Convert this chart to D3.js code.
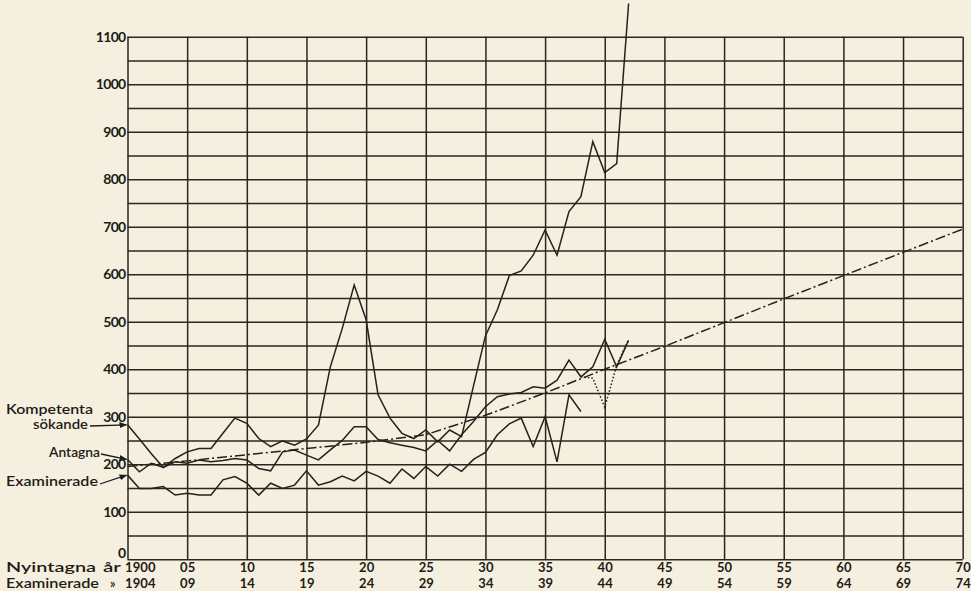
<!DOCTYPE html>
<html>
<head>
<meta charset="utf-8">
<script src="https://cdn.jsdelivr.net/npm/d3@7/dist/d3.min.js"></script>
<style>
  html, body { margin: 0; padding: 0; background: #f4efde; }
  svg { display: block; }
  .grid line { stroke: #2b2620; stroke-width: 1.5; }
  .grid path, .labels path { display: none; }
  .labels text { font-family: Lato, sans-serif; font-weight: 700; fill: #1f1b17; }
  .series { fill: none; stroke: #25211c; stroke-width: 1.5; stroke-linejoin: miter; }
  .note { font-family: Lato, sans-serif; font-weight: 600; font-size: 12.5px; fill: #1f1b17; }
</style>
</head>
<body>
<svg id="chart" width="971" height="591"></svg>
<script>
// values
var startYear = 1900;
var kompetenta = [283, 253, 222, 193, 212, 226, 233, 233, 265, 297, 286, 254, 237, 249, 240, 253, 282, 405, 486, 577,
  504, 346, 297, 265, 254, 272, 247, 272, 258, 365, 470, 525, 597, 607, 640, 693, 640, 732, 763, 879, 814, 833, 1170];
var antagna = [210, 184, 202, 193, 205, 202, 209, 205, 208, 212, 209, 191, 186, 226, 230, 219, 209, 230, 250, 279,
  279, 252, 245, 240, 235, 228, 250, 228, 262, 290, 321, 342, 348, 351, 363, 360, 377, 419, 384, 405, 463, 405, 461];
var antagnaAltStart = 1938;
var antagnaAlt = [384, 381, 320, 408, 463];
// examinerade are counted by exam year, drawn four years back
var examStart = 1904;
var examLag = 4;
var examinerade = [177, 149, 149, 153, 135, 139, 135, 135, 167, 174, 160, 135, 160, 149, 156, 186, 156, 163,
  175, 165, 185, 175, 160, 190, 170, 195, 175, 200, 185, 210, 225, 262, 285, 297, 237, 300, 205, 346, 311];
var trendYears = [1900, 1905, 1910, 1915, 1920, 1925, 1930, 1935, 1940, 1945, 1950, 1955, 1960, 1965, 1970];
var trendValues = [195, 207, 220, 233, 246, 262, 303, 350, 400, 448, 498, 548, 597, 646, 695];

var yTicks = [0, 100, 200, 300, 400, 500, 600, 700, 800, 900, 1000, 1100];
var yGrid = [0, 50, 100, 150, 200, 250, 300, 350, 400, 450, 500, 550, 600, 650, 700, 750, 800, 850, 900, 950, 1000, 1050, 1100];
var yearTicks = [1900, 1905, 1910, 1915, 1920, 1925, 1930, 1935, 1940, 1945, 1950, 1955, 1960, 1965, 1970];
var nyLabels = ['1900', '05', '10', '15', '20', '25', '30', '35', '40', '45', '50', '55', '60', '65', '70'];
var exLabels = ['1904', '09', '14', '19', '24', '29', '34', '39', '44', '49', '54', '59', '64', '69', '74'];

(function () {
  var svg = d3.select('#chart');
  var x = d3.scaleLinear().domain([1900, 1970]).range([127.5, 962.7]);
  var y = d3.scaleLinear().domain([0, 1100]).range([559.2, 36.7]);
  var plotW = x(1970) - x(1900);
  var plotH = y(0) - y(1100);

  svg.append('g')
    .attr('class', 'grid')
    .attr('transform', 'translate(' + x(1900) + ',0)')
    .call(d3.axisLeft(y).tickValues(yGrid).tickSize(-plotW).tickFormat(''));

  svg.append('g')
    .attr('class', 'grid')
    .attr('transform', 'translate(0,' + y(0) + ')')
    .call(d3.axisBottom(x).tickValues(yearTicks).tickSizeInner(-plotH).tickSizeOuter(0).tickFormat(''));

  var yAxis = svg.append('g')
    .attr('class', 'labels')
    .attr('transform', 'translate(' + (x(1900) - 1) + ',0)')
    .call(d3.axisLeft(y).tickValues(yTicks).tickSize(0).tickPadding(1).tickFormat(d3.format('d')));
  yAxis.selectAll('text').style('font-size', '14px').attr('letter-spacing', '-0.7');
  yAxis.selectAll('.tick').filter(function (d) { return d === 0; })
    .select('text').attr('dy', '-0.15em');

  function yearRow(labels, baseline) {
    var g = svg.append('g')
      .attr('class', 'labels')
      .attr('transform', 'translate(0,' + baseline + ')')
      .call(d3.axisBottom(x).tickValues(yearTicks).tickSize(0).tickPadding(0)
        .tickFormat(function (d, i) { return labels[i]; }));
    g.selectAll('text').style('font-size', '13px').attr('dy', 0).attr('letter-spacing', '0.1');
    g.selectAll('.tick').filter(function (d) { return d === 1900; })
      .select('text').attr('text-anchor', 'start').attr('x', -3);
  }
  yearRow(nyLabels, 572);
  yearRow(exLabels, 588);

  function note(t, xPos, yPos, len) {
    var el = svg.append('text').attr('class', 'note').attr('x', xPos).attr('y', yPos).text(t);
    if (len) {
      el.attr('textLength', len).attr('lengthAdjust', 'spacingAndGlyphs');
    }
    return el;
  }
  note('Nyintagna', 6, 572, 90);
  note('år', 103, 572, 18);
  note('Examinerade', 6, 588, 93);
  note('»', 110, 588);

  var line = d3.line()
    .x(function (d) { return x(d.year); })
    .y(function (d) { return y(d.value); });

  function toPoints(values, start, lag) {
    return values.map(function (v, i) {
      return { year: start + i - (lag || 0), value: v };
    });
  }

  var trend = trendYears.map(function (yr, i) { return { year: yr, value: trendValues[i] }; });

  svg.append('path').attr('class', 'series').attr('d', line(toPoints(kompetenta, startYear)));
  svg.append('path').attr('class', 'series').attr('d', line(toPoints(antagna, startYear)));
  svg.append('path').attr('class', 'series').attr('d', line(toPoints(examinerade, examStart, examLag)));
  svg.append('path').attr('class', 'series')
    .attr('stroke-width', 1.2)
    .attr('stroke-dasharray', '1.5,2')
    .attr('d', line(toPoints(antagnaAlt, antagnaAltStart)));
  svg.append('path').attr('class', 'series')
    .attr('stroke-width', 1.6)
    .attr('stroke-dasharray', '10,3,2,3')
    .attr('d', line(trend));

  // legend labels with arrows to the first point of each line
  svg.append('defs').append('marker')
    .attr('id', 'arrow')
    .attr('viewBox', '0 0 10 10')
    .attr('refX', 9).attr('refY', 5)
    .attr('markerWidth', 6).attr('markerHeight', 6)
    .attr('orient', 'auto')
    .append('path').attr('d', 'M0,1 L10,5 L0,9 z').attr('fill', '#1f1b17');

  var legend = [
    { lines: ['Kompetenta', 'sökande'], lx: [6, 33], ly: [414, 429], len: [87, 55], from: [90, 426], value: kompetenta[0] },
    { lines: ['Antagna'], lx: [49], ly: [457], len: [51], from: [101, 454], value: antagna[0] },
    { lines: ['Examinerade'], lx: [6], ly: [486], len: [92], from: [100, 484], value: examinerade[0] }
  ];
  legend.forEach(function (l) {
    l.lines.forEach(function (t, i) {
      note(t, l.lx[i], l.ly[i], l.len[i]);
    });
    svg.append('line')
      .attr('x1', l.from[0]).attr('y1', l.from[1])
      .attr('x2', x(1900) - 1).attr('y2', y(l.value))
      .attr('stroke', '#1f1b17').attr('stroke-width', 1.3)
      .attr('marker-end', 'url(#arrow)');
  });
})();
</script>
</body>
</html>
